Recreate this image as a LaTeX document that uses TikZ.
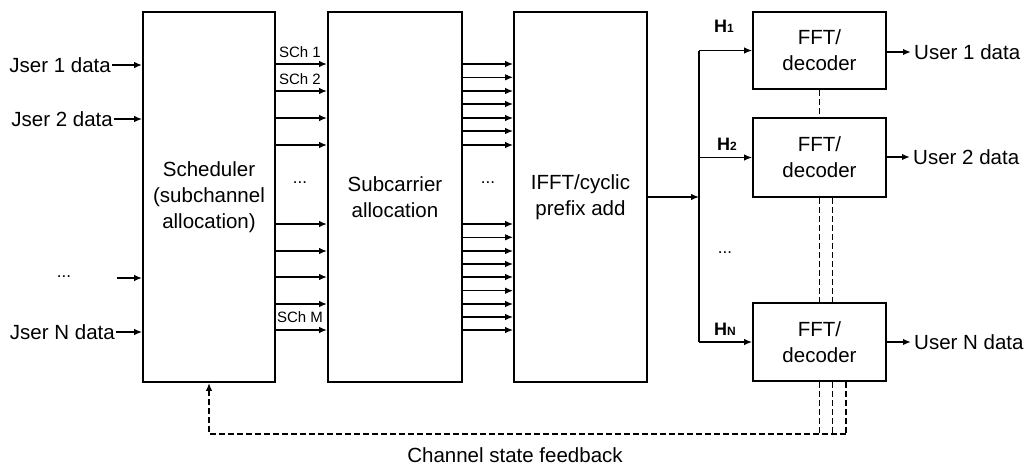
\documentclass[tikz,border=0pt]{standalone}
\usepackage{fontspec}
\setmainfont{Liberation Sans}
\usetikzlibrary{arrows.meta}
\begin{document}
\begin{tikzpicture}[x=1pt,y=-1pt,
  blk/.style={draw, line width=1.8pt, inner sep=0pt, align=center,
    font=\fontsize{20.5}{26}\selectfont},
  lbl/.style={inner sep=1pt, font=\fontsize{20.5}{24}\selectfont},
  sch/.style={inner sep=0pt, font=\fontsize{15}{17}\selectfont},
  hl/.style={inner sep=0pt, font=\fontsize{18}{20}\selectfont\bfseries},
  dts/.style={inner sep=0pt, font=\fontsize{17}{18}\selectfont},
  arr/.style={line width=1.3pt, -{Latex[length=8pt,width=6.5pt]}},
  arrb/.style={line width=1.7pt, -{Latex[length=8pt,width=6.5pt]}},
  fbk/.style={line width=1.3pt, dash pattern=on 6pt off 3pt},
  fbb/.style={line width=1.8pt, dash pattern=on 6pt off 3pt}]
\useasboundingbox (0,0) rectangle (1029,467);
% blocks
\node[blk, minimum width=132pt, minimum height=370pt] (sched) at (209,197)
  {Scheduler\\(subchannel\\allocation)};
\node[blk, minimum width=134pt, minimum height=370pt] (subc) at (395,197)
  {Subcarrier\\allocation};
\node[blk, minimum width=133pt, minimum height=370pt] (ifft) at (580.5,197)
  {IFFT/cyclic\\prefix add};
\node[blk, minimum width=133pt, minimum height=77pt] (fft1) at (819.5,50.5) {FFT/\\decoder};
\node[blk, minimum width=133pt, minimum height=79pt] (fft2) at (819.5,157.5) {FFT/\\decoder};
\node[blk, minimum width=133pt, minimum height=78pt] (fftn) at (819.5,342) {FFT/\\decoder};
% inputs
\node[lbl, anchor=east] (u1) at (112,65) {Jser 1 data};
\node[lbl, anchor=east] (u2) at (114,119) {Jser 2 data};
\node[dts] (udots) at (64,277) {...};
\coordinate (cin) at (117,278);
\node[lbl, anchor=east] (un) at (116,332) {Jser N data};
\draw[arrb] (u1.east) -- (u1.east -| sched.west);
\draw[arr] (u2.east) -- (u2.east -| sched.west);
\draw[arrb] (cin) -- (cin -| sched.west);
\draw[arr] (un.east) -- (un.east -| sched.west);
% scheduler -> subcarrier
\foreach \y in {64,91,118,145,224,251,277,304,330}
  \draw[arrb] (sched.east |- 0,\y) -- (subc.west |- 0,\y);
\node[sch] (s1) at (300,52) {SCh 1};
\node[sch] (s2) at (300,79) {SCh 2};
\node[sch] (sm) at (300,317) {SCh M};
\node[dts] (d1) at (300,183) {...};
% subcarrier -> ifft
\foreach \y in {64,77.3,91,104,118,131,145,224,237.3,251,264,277,290.7,304,317,330}
  \draw[arr] (subc.east |- 0,\y) -- (ifft.west |- 0,\y);
\node[dts] (d2) at (488,183) {...};
% ifft -> bus -> fft
\coordinate (bus) at (699,197);
\draw[arr] (ifft.east) -- (bus);
\draw[line width=1.3pt] (fft1.west -| bus) -- (fftn.west -| bus);
\draw[arr] (fft1.west -| bus) -- (fft1.west);
\draw[arr] (fft2.west -| bus) -- (fft2.west);
\draw[arr] (fftn.west -| bus) -- (fftn.west);
\node[hl] (h1) at (724,26) {H{\fontsize{12}{12}\selectfont 1}};
\node[hl] (h2) at (727,144) {H{\fontsize{12}{12}\selectfont 2}};
\node[hl] (hn) at (725,329) {H{\fontsize{12}{12}\selectfont N}};
\node[dts] (d3) at (725,253) {...};
% outputs
\node[lbl, anchor=west, inner sep=3pt] (o1) at (911,52) {User 1 data};
\node[lbl, anchor=west, inner sep=3pt] (o2) at (910,157) {User 2 data};
\node[lbl, anchor=west, inner sep=3pt] (on) at (911,342) {User N data};
\draw[arrb] (fft1.east |- o1.west) -- (o1.west);
\draw[arrb] (fft2.east |- o2.west) -- (o2.west);
\draw[arrb] (fftn.east |- on.west) -- (on.west);
% feedback
\coordinate (fbc) at (846,434);
\draw[fbk] (fft1.south) -- (fft2.north);
\draw[fbk] (fft2.south) -- (fftn.north);
\draw[fbk] ([xshift=13pt]fft2.south) -- ([xshift=13pt]fftn.north);
\draw[fbk] (fftn.south) -- (fftn.south |- fbc);
\draw[fbk] ([xshift=13pt]fftn.south) -- ([xshift=13pt]fftn.south |- fbc);
\draw[fbk] ([xshift=26.5pt]fftn.south) -- (fbc);
\draw[fbb, -{Latex[length=8pt,width=6.5pt]}] (fbc) -| (sched.south);
\node[lbl] (fbl) at (515,455) {Channel state feedback};
\end{tikzpicture}
\end{document}
